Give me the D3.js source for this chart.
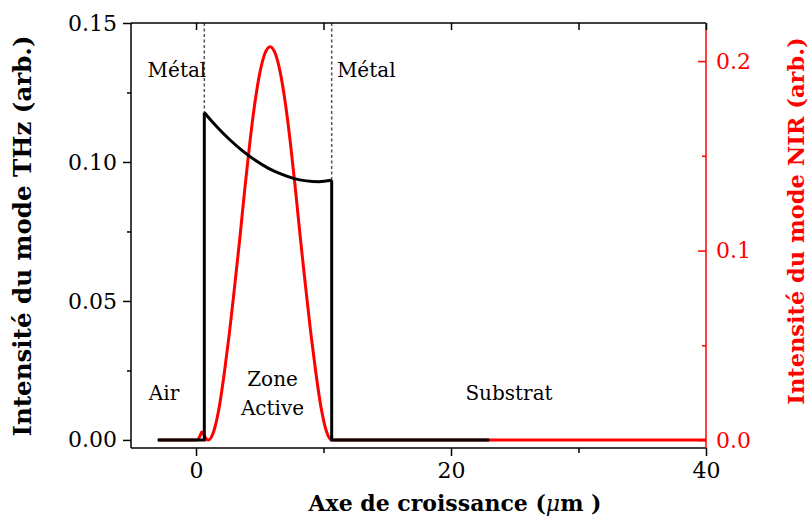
<!DOCTYPE html>
<html>
<head>
<meta charset="utf-8">
<script src="https://cdn.jsdelivr.net/npm/d3@7"></script>
<style>
  body { margin: 0; background: #fff; }
  svg { display: block; }
  text { font-family: "DejaVu Serif", serif; }
</style>
</head>
<body>
<svg id="chart" width="808" height="520"></svg>
<script>
// ---- data ----
// THz mode intensity (black, left axis): flat parts and step edges
const thzStepLeftX  = [-3, 0.65, 0.65];
const thzStepLeftY  = [0, 0, 0.1178];
const thzCurveX = [0.65, 1.15, 1.65, 2.65, 3.65, 4.65, 5.65, 6.65, 7.65, 8.65, 9.65, 10.64];
const thzCurveY = [0.1178, 0.1151, 0.1126, 0.1080, 0.1040, 0.1006, 0.0978, 0.0957, 0.0941, 0.0932, 0.0929, 0.0934];
const thzStepRightX = [10.64, 10.64, 23];
const thzStepRightY = [0.0934, 0, 0];

// NIR mode intensity (red, right axis)
const nirX = [-3, 0.1, 0.3, 0.45, 0.6, 0.8, 0.98, 1.41, 1.81, 2.21, 2.61, 3.01, 3.41, 3.81, 4.21, 4.61, 5.01, 5.41, 5.81,
              6.21, 6.61, 7.01, 7.41, 7.81, 8.21, 8.61, 9.01, 9.41, 9.81, 10.21, 10.64, 40];
const nirY = [0, 0, 0.002, 0.0042, 0.003, 0.0006, 0, 0.005, 0.017, 0.035, 0.056, 0.080, 0.1048, 0.1315, 0.1563, 0.1776, 0.1939, 0.2041, 0.2076,
              0.2041, 0.1939, 0.1776, 0.1563, 0.1315, 0.1048, 0.080, 0.056, 0.035, 0.017, 0.005, 0, 0];

// metal boundaries (dashed lines)
const metalX = [0.65, 10.64];
const metalTopY = [0.1178, 0.0934];

// ticks
const xMajor = [0, 20, 40];
const xMinor = [10, 30];
const xTop = [0, 10, 20, 30, 40];
const yLMajor = [0, 0.05, 0.10, 0.15];
const yLMinor = [0.025, 0.075, 0.125];
const yRMajor = [0, 0.1, 0.2];
const yRMinor = [0.05, 0.15];

// region labels
const regionLabels = [
  {t: "Métal", x: -3.8, y: 0.1306, anchor: "start"},
  {t: "Métal", x: 11.05, y: 0.1306, anchor: "start"},
  {t: "Air", x: -3.7, y: 0.0143, anchor: "start"},
  {t: "Zone", x: 6.0, y: 0.0195, anchor: "middle"},
  {t: "Active", x: 6.0, y: 0.0090, anchor: "middle"},
  {t: "Substrat", x: 24.55, y: 0.0143, anchor: "middle"}
];

// ---- drawing ----
const svg = d3.select("#chart");
const L = 131, R = 706, T = 23, B = 448;
const x = d3.scaleLinear().domain([-5.1, 40]).range([L, R]);
const yL = d3.scaleLinear().domain([-0.0029, 0.15]).range([B, T]);
const yR = d3.scaleLinear().domain([-0.0042, 0.2201]).range([B, T]);

svg.append("rect").attr("width", 808).attr("height", 520).attr("fill", "#fff");

const zip = (a, b) => a.map((v, i) => [v, b[i]]);

// red NIR curve (underneath)
svg.append("path")
  .datum(zip(nirX, nirY))
  .attr("fill", "none").attr("stroke", "#ff0000").attr("stroke-width", 3)
  .attr("stroke-linejoin", "round")
  .attr("d", d3.line().x(d => x(d[0])).y(d => yR(d[1])).curve(d3.curveMonotoneX));

// dashed metal boundaries
metalX.forEach((mx, i) => {
  svg.append("line")
    .attr("x1", x(mx)).attr("x2", x(mx))
    .attr("y1", T).attr("y2", yL(metalTopY[i]))
    .attr("stroke", "#555").attr("stroke-width", 1.5).attr("stroke-dasharray", "3,2.5");
});

// black THz curve
const linL = d3.line().x(d => x(d[0])).y(d => yL(d[1]));
svg.append("path").datum(zip(thzStepLeftX, thzStepLeftY))
  .attr("fill", "none").attr("stroke", "#000").attr("stroke-width", 3).attr("d", linL);
svg.append("path").datum(zip(thzCurveX, thzCurveY))
  .attr("fill", "none").attr("stroke", "#000").attr("stroke-width", 3)
  .attr("d", d3.line().x(d => x(d[0])).y(d => yL(d[1])).curve(d3.curveMonotoneX));
svg.append("path").datum(zip(thzStepRightX, thzStepRightY))
  .attr("fill", "none").attr("stroke", "#000").attr("stroke-width", 3).attr("d", linL);

// frame
svg.append("line").attr("x1", L).attr("x2", R).attr("y1", T).attr("y2", T).attr("stroke", "#000").attr("stroke-width", 1.5);
svg.append("line").attr("x1", L).attr("x2", R).attr("y1", B).attr("y2", B).attr("stroke", "#000").attr("stroke-width", 1.5);
svg.append("line").attr("x1", L).attr("x2", L).attr("y1", T).attr("y2", B).attr("stroke", "#000").attr("stroke-width", 1.5);
svg.append("line").attr("x1", R).attr("x2", R).attr("y1", T).attr("y2", B).attr("stroke", "#ff0000").attr("stroke-width", 1.5);

// bottom axis (outward)
const xAxis = d3.axisBottom(x).tickValues(xMajor).tickSize(8).tickPadding(6).tickFormat(d3.format("d"));
const gx = svg.append("g").attr("transform", `translate(0,${B})`).call(xAxis);
gx.select(".domain").remove();
gx.selectAll("line").attr("stroke", "#000").attr("stroke-width", 1.5);
gx.selectAll("text").attr("font-size", 22).attr("fill", "#000").attr("font-family", "DejaVu Serif");
const gxm = svg.append("g").attr("transform", `translate(0,${B})`)
  .call(d3.axisBottom(x).tickValues(xMinor).tickSize(5).tickFormat(""));
gxm.select(".domain").remove();
gxm.selectAll("line").attr("stroke", "#000").attr("stroke-width", 1.5);

// top ticks (inward)
const gt = svg.append("g").attr("transform", `translate(0,${T})`)
  .call(d3.axisBottom(x).tickValues(xTop).tickSize(7).tickFormat(""));
gt.select(".domain").remove();
gt.selectAll("line").attr("stroke", "#000").attr("stroke-width", 1.5);

// left axis (outward)
const gy = svg.append("g").attr("transform", `translate(${L},0)`)
  .call(d3.axisLeft(yL).tickValues(yLMajor).tickSize(8).tickPadding(6).tickFormat(d3.format(".2f")));
gy.select(".domain").remove();
gy.selectAll("line").attr("stroke", "#000").attr("stroke-width", 1.5);
gy.selectAll("text").attr("font-size", 22).attr("fill", "#000").attr("font-family", "DejaVu Serif");
const gym = svg.append("g").attr("transform", `translate(${L},0)`)
  .call(d3.axisLeft(yL).tickValues(yLMinor).tickSize(4).tickFormat(""));
gym.select(".domain").remove();
gym.selectAll("line").attr("stroke", "#000").attr("stroke-width", 1.5);

// right axis (ticks inward, labels outside), red
const gr = svg.append("g").attr("transform", `translate(${R},0)`)
  .call(d3.axisLeft(yR).tickValues(yRMajor).tickSize(8).tickFormat(d3.format(".1f")));
gr.select(".domain").remove();
gr.selectAll("line").attr("stroke", "#ff0000").attr("stroke-width", 1.5);
gr.selectAll("text").attr("font-size", 22).attr("fill", "#ff0000").attr("font-family", "DejaVu Serif")
  .attr("x", 10).attr("text-anchor", "start");
const grm = svg.append("g").attr("transform", `translate(${R},0)`)
  .call(d3.axisLeft(yR).tickValues(yRMinor).tickSize(4).tickFormat(""));
grm.select(".domain").remove();
grm.selectAll("line").attr("stroke", "#ff0000").attr("stroke-width", 1.5);

// region labels
regionLabels.forEach(r => {
  svg.append("text").attr("x", x(r.x)).attr("y", yL(r.y))
    .attr("text-anchor", r.anchor).attr("font-size", 20).attr("fill", "#000").text(r.t);
});

// axis titles
const xt = svg.append("text").attr("x", 455).attr("y", 511).attr("text-anchor", "middle")
  .attr("font-size", 22).attr("font-weight", "bold").attr("fill", "#000");
xt.append("tspan").text("Axe de croissance (");
xt.append("tspan").attr("font-style", "italic").attr("font-weight", "normal").text("μ");
xt.append("tspan").text("m )");

svg.append("text").attr("transform", "translate(31,236) rotate(-90)")
  .attr("text-anchor", "middle").attr("font-size", 24.5).attr("font-weight", "bold").attr("fill", "#000")
  .text("Intensité du mode THz (arb.)");
svg.append("text").attr("transform", "translate(804,221) rotate(-90)")
  .attr("text-anchor", "middle").attr("font-size", 22.5).attr("font-weight", "bold").attr("fill", "#ff0000")
  .text("Intensité du mode NIR (arb.)");
</script>
</body>
</html>
